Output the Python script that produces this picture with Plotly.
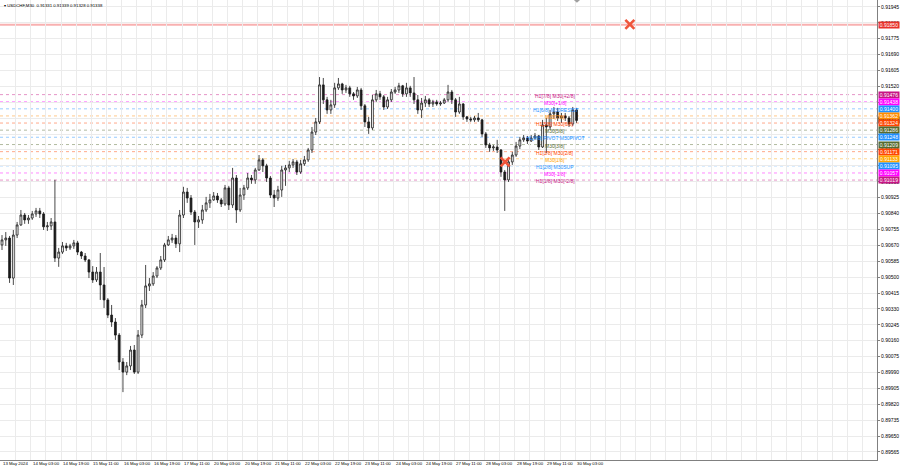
import plotly.graph_objects as go

# ---------------- data (prices in points, 1e-5) ----------------
opens = [90672,90699,90709,90495,90725,90779,90832,90806,90816,90838,90854,90838,90769,90774,90795,90602,90634,90667,90656,90667,
         90683,90634,90613,90592,90527,90485,90527,90458,90378,90297,90260,90190,90046,89992,90025,90110,89992,90190,90351,90453,
         90464,90506,90549,90592,90672,90699,90709,90678,90832,90955,90923,90848,90795,90806,90859,90897,90913,90934,90913,90891,
         90977,90886,91030,90859,90939,90977,91030,91020,91073,91127,91095,91030,90939,90923,90966,91073,91084,91100,91116,91062,
         91106,91127,91180,91276,91330,91528,91448,91394,91421,91512,91533,91501,91512,91480,91469,91501,91416,91330,91298,91448,
         91480,91464,91410,91448,91490,91501,91523,91480,91512,91485,91448,91394,91431,91448,91426,91437,91426,91431,91448,91490,
         91448,91383,91426,91357,91346,91341,91351,91341,91266,91207,91191,91196,91180,91062,91020,91116,91153,91201,91234,91244,
         91228,91244,91255,91196,91314,91303,91373,91383,91351,91362,91351,91319,91394]
highs = [90725,90741,90720,90752,90795,90859,90843,90832,90854,90870,90870,90848,90795,90816,91020,90656,90688,90683,90678,90699,
         90694,90640,90629,90597,90559,90554,90629,90554,90388,90351,90281,90201,90067,90046,90132,90137,90217,90378,90565,90495,
         90527,90559,90613,90683,90720,90731,90725,90859,90983,90977,90939,90859,90827,90886,90929,90945,90955,90950,90923,90993,
         90988,91084,91046,90977,90993,91057,91046,91084,91153,91137,91106,91041,90966,90988,91095,91100,91122,91132,91127,91127,
         91148,91191,91303,91351,91570,91565,91464,91448,91539,91565,91539,91528,91523,91490,91517,91512,91426,91357,91474,91501,
         91496,91474,91464,91506,91517,91539,91528,91539,91523,91570,91474,91458,91469,91458,91448,91448,91442,91458,91528,91501,
         91458,91464,91431,91362,91357,91362,91378,91346,91276,91218,91207,91234,91185,91073,91137,91170,91223,91250,91260,91255,
         91260,91271,91260,91341,91351,91394,91410,91405,91378,91378,91362,91410,91405]
lows = [90645,90667,90469,90458,90709,90774,90785,90785,90806,90822,90816,90752,90747,90752,90581,90555,90624,90640,90645,90651,
        90618,90597,90581,90495,90469,90474,90378,90335,90281,90234,90164,90003,89885,89976,90003,89982,89982,90174,90335,90426,
        90453,90495,90538,90581,90667,90683,90656,90634,90816,90897,90832,90672,90763,90785,90848,90870,90908,90897,90875,90881,
        90859,90870,90790,90848,90913,90966,90999,90999,91068,91062,91009,90923,90875,90908,90929,90988,91062,91084,91046,91052,
        91095,91116,91164,91260,91319,91426,91373,91373,91405,91501,91480,91485,91464,91448,91458,91394,91303,91266,91287,91437,
        91448,91394,91399,91437,91480,91485,91464,91464,91464,91426,91373,91351,91410,91410,91410,91416,91416,91426,91437,91426,
        91357,91373,91341,91330,91330,91330,91330,91250,91191,91170,91175,91164,91036,90854,91009,91100,91143,91185,91223,91212,
        91223,91234,91180,91191,91164,91287,91346,91335,91325,91335,91303,91308,91325]
closes = [90699,90709,90495,90725,90779,90832,90806,90816,90838,90854,90838,90769,90774,90795,90602,90634,90667,90656,90667,90683,
          90634,90613,90592,90527,90485,90527,90458,90378,90297,90260,90190,90046,89992,90025,90110,89992,90190,90351,90453,90464,
          90506,90549,90592,90672,90699,90709,90678,90832,90955,90923,90848,90795,90806,90859,90897,90913,90934,90913,90891,90977,
          90886,91030,90859,90939,90977,91030,91020,91073,91127,91095,91030,90939,90923,90966,91073,91084,91100,91116,91062,91106,
          91127,91180,91276,91330,91528,91448,91394,91421,91512,91533,91501,91512,91480,91469,91501,91416,91330,91298,91448,91480,
          91464,91410,91448,91490,91501,91523,91480,91512,91485,91448,91394,91431,91448,91426,91437,91426,91431,91448,91490,91448,
          91383,91426,91357,91346,91341,91351,91341,91266,91207,91191,91196,91180,91062,91020,91116,91153,91201,91234,91244,91228,
          91244,91255,91196,91314,91303,91373,91383,91351,91362,91351,91319,91394,91338]

date_labels = ["13 May 2024", "14 May 03:00", "14 May 19:00", "15 May 11:00", "16 May 03:00", "16 May 19:00",
               "17 May 11:00", "20 May 03:00", "20 May 19:00", "21 May 11:00", "22 May 03:00", "22 May 19:00",
               "23 May 11:00", "24 May 03:00", "24 May 19:00", "27 May 11:00", "28 May 03:00", "28 May 19:00",
               "29 May 11:00", "30 May 03:00"]

level_prices = [0.91476, 0.91438, 0.91400, 0.91362, 0.91324, 0.91286, 0.91248,
                0.91209, 0.91171, 0.91133, 0.91095, 0.91057, 0.91019]
level_names = ["H1[7/8] M30[+2/8]", "M30[+1/8]", "H1[6/8] M30RESIST", "M30[7/8]", "H1[5/8] M30[6/8]",
               "M30[5/8]", "H1[4/8] PIVOT M30PIVOT", "M30[3/8]", "H1[3/8] M30[2/8]", "M30[1/8]",
               "H1[2/8] M30SUP", "M30[-1/8]", "H1[1/8] M30[-2/8]"]
level_colors = ["#C71585", "#FF00FF", "#1E90FF", "#FF8C00", "#FF4500", "#556B2F", "#1E90FF",
                "#556B2F", "#FF4500", "#FFA500", "#1E90FF", "#FF00FF", "#C71585"]

red_line_price = 0.91850
cross_idx = [133.1, 166.1]
cross_price = [0.91116, 0.91852]

symbol = "USDCHF,M30"
last_ohlc = ["0.91331", "0.91339", "0.91328", "0.91338"]
current_price = 0.91338

# ---------------- figure ----------------
idx = list(range(len(closes)))
sc = 1e5
FONT = "Liberation Sans, Arial, sans-serif"
FS = 5
FS_SMALL = 4.3

fig = go.Figure()

shapes = []
shapes.append(dict(type="line", xref="paper", x0=0, x1=1, yref="y", y0=red_line_price, y1=red_line_price,
                   line=dict(color="rgba(240,80,80,0.45)", width=2), layer="below"))
for p, c in zip(level_prices, level_colors):
    shapes.append(dict(type="line", xref="paper", x0=0, x1=1, yref="y", y0=p, y1=p,
                       line=dict(color=c, width=1, dash="dot"), opacity=0.45, layer="below"))
# small chart-shift marker at the top
shapes.append(dict(type="path", xref="x", yref="paper",
                   path="M 151.3 1 L 152.9 1 L 152.1 0.994 Z", fillcolor="#a0a0a0", line=dict(width=0)))

fig.add_trace(go.Candlestick(
    x=idx, open=[v / sc for v in opens], high=[v / sc for v in highs],
    low=[v / sc for v in lows], close=[v / sc for v in closes],
    increasing=dict(line=dict(color="#1a1a1a", width=0.8), fillcolor="#ffffff"),
    decreasing=dict(line=dict(color="#1a1a1a", width=0.8), fillcolor="#1a1a1a"),
    whiskerwidth=0, showlegend=False, hoverinfo="skip"))

fig.add_trace(go.Scatter(x=cross_idx, y=cross_price, mode="markers",
                         marker=dict(symbol="x-thin-open", size=9, line=dict(color="#E8312A", width=2.6)),
                         showlegend=False, hoverinfo="skip"))

ann = []
ann.append(dict(xref="paper", yref="paper", x=0.002, y=0.997, xanchor="left", yanchor="top",
                text="▾ " + symbol + "  " + " ".join(last_ohlc), showarrow=False,
                font=dict(family=FONT, size=FS_SMALL, color="#000000")))
for j, lab in enumerate(date_labels):
    ann.append(dict(xref="x", yref="paper", x=-0.375 + 8 * j, y=-0.0068, xanchor="left", yanchor="middle",
                    text=lab, showarrow=False, font=dict(family=FONT, size=FS_SMALL, color="#000000")))
for p, name, c in zip(level_prices, level_names, level_colors):
    ann.append(dict(xref="x", yref="y", x=146.3, y=p, xanchor="center", yanchor="middle", yshift=-1,
                    text=name, showarrow=False, font=dict(family=FONT, size=FS, color=c)))
tag_list = [(current_price, "#000000")] + [(red_line_price, "#E8312A")] + list(zip(level_prices, level_colors))
for p, c in tag_list:
    ann.append(dict(xref="paper", yref="y", x=1.0, y=p, xanchor="left", yanchor="middle", xshift=1,
                    text=f"{p:.5f}", showarrow=False, bgcolor=c, borderpad=0, width=20, height=6,
                    font=dict(family=FONT, size=FS, color="#ffffff")))

fig.update_layout(
    width=900, height=468, margin=dict(l=0, r=23, t=0, b=8),
    paper_bgcolor="#ffffff", plot_bgcolor="#ffffff",
    shapes=shapes, annotations=ann,
    xaxis=dict(range=[-0.53, 231.48], rangeslider=dict(visible=False), showticklabels=False,
               tick0=-0.375, dtick=4, showgrid=True, gridcolor="#ebebeb", gridwidth=1,
               zeroline=False, showline=True, linecolor="#808080", linewidth=1, mirror=False, fixedrange=True),
    yaxis=dict(range=[0.89522, 0.91982], side="right", tick0=0.89565, dtick=0.00085, tickformat=".5f",
               showgrid=True, gridcolor="#ebebeb", gridwidth=1, zeroline=False, automargin=False,
               showline=True, linecolor="#808080", linewidth=1, ticks="outside", ticklen=2, tickcolor="#808080",
               tickfont=dict(family=FONT, size=FS, color="#000000"), fixedrange=True),
    font=dict(family=FONT),
)

fig.write_html("out.html", config={"displayModeBar": False},
               post_script="document.body.style.margin='0';document.body.style.overflow='hidden';")
